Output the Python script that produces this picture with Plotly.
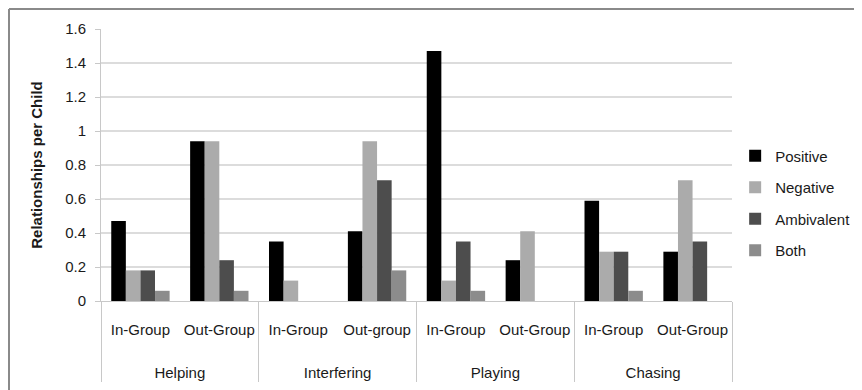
import plotly.graph_objects as go

activities = ["Helping", "Helping", "Interfering", "Interfering",
              "Playing", "Playing", "Chasing", "Chasing"]
groups = ["In-Group", "Out-Group", "In-Group", "Out-group",
          "In-Group", "Out-Group", "In-Group", "Out-Group"]

positive = [0.47, 0.94, 0.35, 0.41, 1.47, 0.24, 0.59, 0.29]
negative = [0.18, 0.94, 0.12, 0.94, 0.12, 0.41, 0.29, 0.71]
ambivalent = [0.18, 0.24, 0.0, 0.71, 0.35, 0.0, 0.29, 0.35]
both = [0.06, 0.06, 0.0, 0.18, 0.06, 0.0, 0.06, 0.0]

series = [
    ("Positive", positive, "#000000"),
    ("Negative", negative, "#ababab"),
    ("Ambivalent", ambivalent, "#4d4d4d"),
    ("Both", both, "#8c8c8c"),
]

y_ticks = [0, 0.2, 0.4, 0.6, 0.8, 1, 1.2, 1.4, 1.6]
y_ticktext = ["0", "0.2", "0.4", "0.6", "0.8", "1", "1.2", "1.4", "1.6"]

FONT = "Liberation Sans, Arial, sans-serif"

# outer category labels get blank leading lines so they sit lower, like the reference
outer_labels = ["<br><br>" + a for a in activities]

fig = go.Figure()
for i, (name, vals, color) in enumerate(series):
    fig.add_trace(go.Bar(
        x=[outer_labels, groups], y=vals, name=name,
        marker=dict(color=color, line=dict(width=0)),
        legendgroup=name,
    ))

W, H = 854, 382
ML, MR, MT, MB = 93, 130, 21, 89

fig.update_layout(
    width=W, height=H,
    margin=dict(l=ML, r=MR, t=MT, b=MB, autoexpand=False),
    paper_bgcolor="white", plot_bgcolor="white",
    barmode="group", bargap=0.26, bargroupgap=0,
    font=dict(family=FONT, size=15, color="#1a1a1a"),
    showlegend=True,
    legend=dict(
        x=1.005, xanchor="left", y=0.36, yanchor="middle",
        traceorder="grouped", tracegroupgap=9,
        font=dict(family=FONT, size=15, color="#1a1a1a"),
        itemwidth=30,
    ),
)

fig.update_yaxes(
    range=[0, 1.6], tickvals=y_ticks, ticktext=y_ticktext,
    showgrid=True, gridcolor="#dcdcdc", gridwidth=2,
    showline=True, linecolor="#c8c8c8", linewidth=1,
    ticks="outside", ticklen=5, tickcolor="#c8c8c8",
    ticklabelstandoff=6,
    tickfont=dict(family=FONT, size=15, color="#1a1a1a"),
    zeroline=False, automargin=False,
    title=dict(text="<b>Relationships per Child</b>",
               font=dict(family=FONT, size=15, color="#1a1a1a"),
               standoff=18),
)

fig.update_xaxes(
    type="multicategory",
    showline=True, linecolor="#c8c8c8", linewidth=1,
    showdividers=True, dividercolor="#c8c8c8", dividerwidth=1,
    ticks="", tickangle=0, automargin=False,
    ticklabelstandoff=15,
    tickfont=dict(family=FONT, size=15, color="#1a1a1a"),
    range=[-0.5, 7.5],
)

pw = W - ML - MR
ph = H - MT - MB
# outer chart border (left and top edges visible in the reference)
fig.add_shape(type="line", xref="paper", yref="paper",
              x0=(1 - ML) / pw, x1=(W - ML) / pw,
              y0=(H - MB - 1) / ph, y1=(H - MB - 1) / ph,
              line=dict(color="#8a8a8a", width=2))
fig.add_shape(type="line", xref="paper", yref="paper",
              x0=(1 - ML) / pw, x1=(1 - ML) / pw,
              y0=(H - MB - 1) / ph, y1=-MB / ph,
              line=dict(color="#8a8a8a", width=2))

fig.write_html("out.html")
